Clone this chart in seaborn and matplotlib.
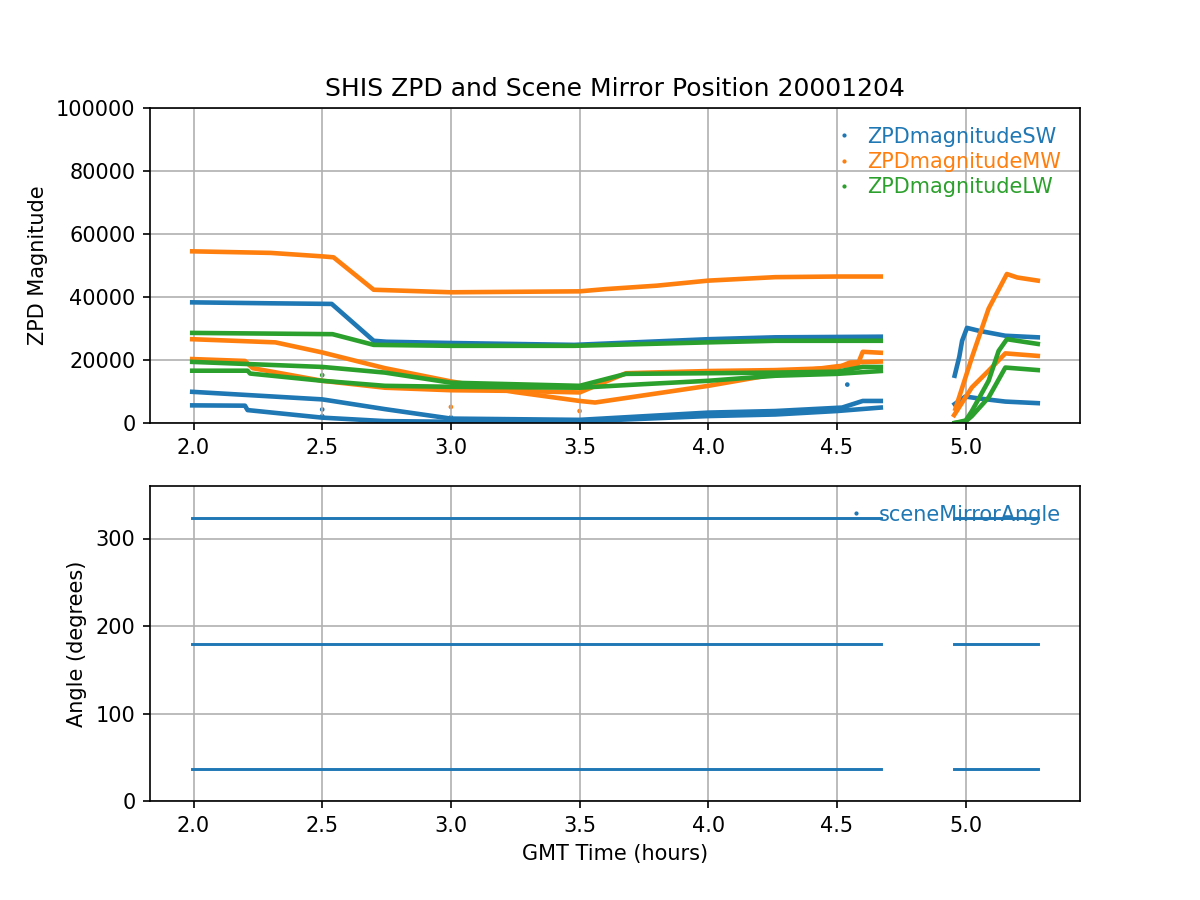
import pandas as pd
import matplotlib
matplotlib.use('Agg')
import matplotlib.pyplot as plt
import seaborn as sns
from matplotlib.lines import Line2D

# ZPD magnitude traces (GMT hours, counts)
# one trace per scene mirror position, two flight segments
sw_hi_t = [1.995, 2.30, 2.537, 2.70, 2.75, 3.00, 3.48, 4.00, 4.26, 4.67]
sw_hi_v = [38300, 38000, 37800, 26100, 25800, 25400, 24800, 26600, 27200, 27400]
sw_mid_t = [1.995, 2.50, 2.744, 3.00, 3.50, 4.00, 4.26, 4.52, 4.60, 4.67]
sw_mid_v = [9900, 7500, 4400, 1400, 1000, 3300, 3800, 4900, 7000, 7000]
sw_lo_t = [1.995, 2.20, 2.21, 2.50, 2.744, 3.00, 3.50, 4.00, 4.26, 4.50, 4.67]
sw_lo_v = [5600, 5500, 4100, 1700, 600, 400, 500, 2200, 2700, 3800, 4900]
sw2_hi_t = [4.957, 4.975, 4.986, 5.005, 5.05, 5.154, 5.28]
sw2_hi_v = [15000, 21000, 26100, 30200, 29300, 27700, 27200]
sw2_lo_t = [4.957, 4.999, 5.05, 5.154, 5.28]
sw2_lo_v = [6000, 8400, 7800, 6800, 6300]

mw_hi_t = [1.995, 2.30, 2.50, 2.544, 2.70, 3.00, 3.50, 3.60, 3.80, 4.00, 4.26, 4.50, 4.67]
mw_hi_v = [54500, 54000, 52900, 52600, 42300, 41500, 41800, 42500, 43600, 45200, 46300, 46500, 46500]
mw_mid_t = [1.995, 2.318, 2.50, 2.744, 3.00, 3.25, 3.50, 3.56, 4.00, 4.26, 4.50, 4.58, 4.60, 4.67]
mw_mid_v = [26600, 25600, 22400, 17400, 13200, 9800, 7000, 6500, 11800, 15500, 18000, 18500, 22600, 22300]
mw_lo_t = [1.995, 2.20, 2.23, 2.50, 2.744, 3.00, 3.24, 3.50, 3.68, 4.00, 4.26, 4.50, 4.55, 4.67]
mw_lo_v = [20300, 19700, 17400, 13400, 11200, 10400, 10200, 9700, 15800, 16500, 16800, 17500, 19200, 19500]
mw2_hi_t = [4.96, 5.024, 5.089, 5.16, 5.20, 5.28]
mw2_hi_v = [4500, 20800, 36300, 47300, 46200, 45200]
mw2_lo_t = [4.955, 5.024, 5.089, 5.154, 5.28]
mw2_lo_v = [2500, 11300, 16600, 22100, 21300]

lw_hi_t = [1.995, 2.54, 2.70, 3.00, 3.48, 4.00, 4.26, 4.67]
lw_hi_v = [28600, 28200, 24800, 24500, 24500, 25600, 26100, 26100]
lw_mid_t = [1.995, 2.50, 2.744, 3.00, 3.50, 3.68, 4.00, 4.26, 4.50, 4.60, 4.67]
lw_mid_v = [19400, 17800, 16000, 12800, 11800, 15600, 15800, 16000, 16300, 17800, 17800]
lw_lo_t = [1.995, 2.21, 2.22, 2.50, 2.744, 3.00, 3.50, 3.74, 4.00, 4.26, 4.50, 4.67]
lw_lo_v = [16600, 16600, 15700, 13400, 11800, 11500, 11200, 12300, 13400, 15000, 15600, 16500]
lw2_hi_t = [4.957, 5.00, 5.024, 5.089, 5.128, 5.16, 5.28]
lw2_hi_v = [0, 800, 3800, 13400, 22900, 26600, 25100]
lw2_lo_t = [4.957, 5.00, 5.024, 5.089, 5.154, 5.28]
lw2_lo_v = [0, 500, 2200, 8100, 17600, 16800]

# a few stray samples visible off the traces
stray_band = ['ZPDmagnitudeSW', 'ZPDmagnitudeSW', 'ZPDmagnitudeMW', 'ZPDmagnitudeLW',
              'ZPDmagnitudeMW', 'ZPDmagnitudeSW', 'ZPDmagnitudeSW', 'ZPDmagnitudeMW']
stray_t = [2.50, 2.50, 2.50, 2.50, 3.00, 3.00, 4.54, 3.50]
stray_v = [4300, 2200, 17500, 15200, 5100, 1800, 12200, 3800]

# scene mirror angles (degrees) and the two recording segments (hours)
mirror_angles = [323, 180, 37]
segment_start = [1.995, 4.955]
segment_end = [4.669, 5.279]

bands = ['ZPDmagnitudeSW', 'ZPDmagnitudeMW', 'ZPDmagnitudeLW']
band_colors = ['#1f77b4', '#ff7f0e', '#2ca02c']

traces = {
    'ZPDmagnitudeSW': [(sw_hi_t, sw_hi_v), (sw_mid_t, sw_mid_v), (sw_lo_t, sw_lo_v),
                       (sw2_hi_t, sw2_hi_v), (sw2_lo_t, sw2_lo_v)],
    'ZPDmagnitudeMW': [(mw_hi_t, mw_hi_v), (mw_mid_t, mw_mid_v), (mw_lo_t, mw_lo_v),
                       (mw2_hi_t, mw2_hi_v), (mw2_lo_t, mw2_lo_v)],
    'ZPDmagnitudeLW': [(lw_hi_t, lw_hi_v), (lw_mid_t, lw_mid_v), (lw_lo_t, lw_lo_v),
                       (lw2_hi_t, lw2_hi_v), (lw2_lo_t, lw2_lo_v)],
}

rows = []
for band in bands:
    for i, (ts, vs) in enumerate(traces[band]):
        for t, v in zip(ts, vs):
            rows.append({'band': band, 'trace': f'{band}_{i}', 'time': t, 'zpd': v})
zpd_df = pd.DataFrame(rows)
stray_df = pd.DataFrame({'band': stray_band, 'time': stray_t, 'zpd': stray_v})

rows = []
for angle in mirror_angles:
    for k in range(len(segment_start)):
        for t in (segment_start[k], segment_end[k]):
            rows.append({'trace': f'{angle}_{k}', 'time': t, 'angle': angle})
angle_df = pd.DataFrame(rows)

fig, (ax1, ax2) = plt.subplots(2, 1, figsize=(8, 6), dpi=150)

# top panel: ZPD magnitudes
sns.lineplot(data=zpd_df, x='time', y='zpd', hue='band', units='trace',
             estimator=None, sort=False, palette=band_colors, hue_order=bands,
             lw=2.2, legend=False, ax=ax1)
sns.scatterplot(data=stray_df, x='time', y='zpd', hue='band', palette=band_colors,
                hue_order=bands, s=5, linewidth=0, legend=False, ax=ax1)
ax1.set_ylim(0, 100000)
ax1.set_yticks([0, 20000, 40000, 60000, 80000, 100000])
ax1.set_xlabel('')
ax1.set_ylabel('ZPD Magnitude')
ax1.set_title('SHIS ZPD and Scene Mirror Position 20001204')
ax1.grid(True)
handles = [Line2D([], [], ls='none', marker='.', ms=2, color=c) for c in band_colors]
ax1.legend(handles, bands, loc='upper right', frameon=False, labelcolor='linecolor',
           handlelength=0.6, labelspacing=0.25)

# bottom panel: scene mirror angle
sns.lineplot(data=angle_df, x='time', y='angle', units='trace', estimator=None,
             sort=False, color='#1f77b4', lw=1.4, legend=False, ax=ax2)
ax2.set_ylim(0, 360)
ax2.set_xlabel('GMT Time (hours)')
ax2.set_ylabel('Angle (degrees)')
ax2.grid(True)
ax2.legend([Line2D([], [], ls='none', marker='.', ms=2, color='#1f77b4')],
           ['sceneMirrorAngle'], loc='upper right', frameon=False,
           labelcolor='linecolor', handlelength=0.6)

for ax in (ax1, ax2):
    ax.set_xticks([2.0, 2.5, 3.0, 3.5, 4.0, 4.5, 5.0])
    ax.set_xlim(1.831, 5.444)

fig.savefig('out.png', dpi=150)
